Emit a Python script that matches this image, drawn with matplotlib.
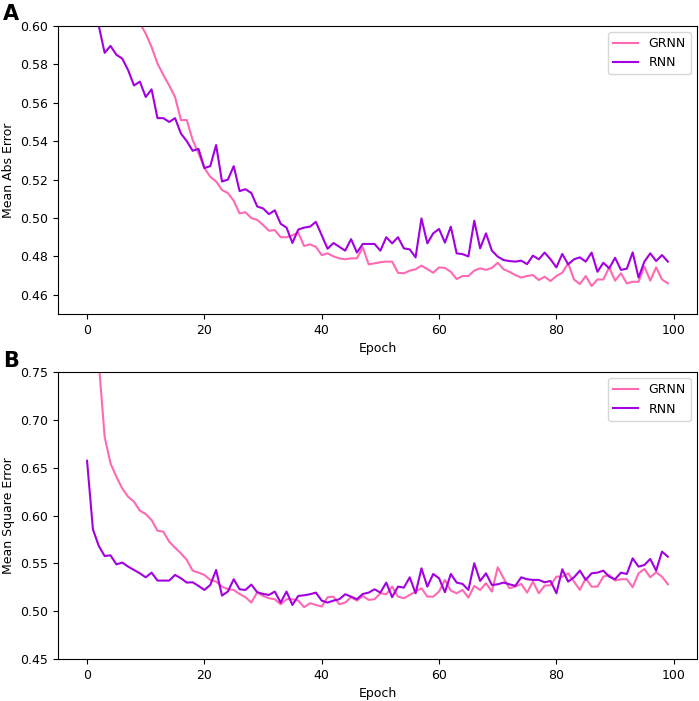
import matplotlib
matplotlib.use("Agg")
import matplotlib.pyplot as plt

# Training curves, one value per epoch (0..99)
epochs = list(range(100))

grnn_mae = [
    0.720, 0.690, 0.665, 0.648, 0.636, 0.626, 0.618, 0.613, 0.608, 0.6015,
    0.596, 0.589, 0.5805, 0.5745, 0.569, 0.563, 0.551, 0.551, 0.5406, 0.5337,
    0.526, 0.5215, 0.519, 0.5146, 0.513, 0.509, 0.5024, 0.503, 0.500, 0.499,
    0.4964, 0.4934, 0.4937, 0.490, 0.490, 0.491, 0.4924, 0.4854, 0.4863, 0.485,
    0.4807, 0.4816, 0.480, 0.479, 0.4785, 0.479, 0.479, 0.4847, 0.4759, 0.4764,
    0.477, 0.4773, 0.4773, 0.4715, 0.4712, 0.4726, 0.4733, 0.4752, 0.4734, 0.4715,
    0.4743, 0.474, 0.472, 0.4682, 0.4698, 0.4698, 0.4726, 0.4738, 0.473, 0.474,
    0.4767, 0.4733, 0.472, 0.4703, 0.469, 0.4698, 0.4703, 0.4677, 0.4694, 0.4672,
    0.4698, 0.4715, 0.4764, 0.468, 0.4656, 0.4698, 0.4646, 0.468, 0.468, 0.4743,
    0.4674, 0.4712, 0.466, 0.4668, 0.4668, 0.4747, 0.4674, 0.4743, 0.468, 0.466,
]

rnn_mae = [
    0.640, 0.612, 0.600, 0.586, 0.5896, 0.585, 0.583, 0.577, 0.569, 0.571,
    0.563, 0.567, 0.552, 0.552, 0.550, 0.552, 0.544, 0.540, 0.535, 0.536,
    0.526, 0.527, 0.538, 0.519, 0.520, 0.527, 0.514, 0.515, 0.513, 0.506,
    0.505, 0.502, 0.504, 0.497, 0.495, 0.487, 0.494, 0.495, 0.4955, 0.498,
    0.491, 0.484, 0.487, 0.485, 0.483, 0.489, 0.482, 0.4865, 0.4865, 0.4865,
    0.483, 0.490, 0.4868, 0.490, 0.4842, 0.4837, 0.4795, 0.4998, 0.4868, 0.492,
    0.4943, 0.4872, 0.4955, 0.4816, 0.4812, 0.480, 0.4986, 0.4842, 0.492, 0.483,
    0.4799, 0.4781, 0.4776, 0.4773, 0.4778, 0.476, 0.4804, 0.4785, 0.482, 0.4785,
    0.4743, 0.4813, 0.4759, 0.4785, 0.4795, 0.4773, 0.482, 0.472, 0.4767, 0.4738,
    0.4793, 0.473, 0.4736, 0.4821, 0.469, 0.4773, 0.4816, 0.4776, 0.4807, 0.4773,
]

grnn_mse = [
    1.000, 0.850, 0.760, 0.6824, 0.6546, 0.6406, 0.6284, 0.6197, 0.6145, 0.6051,
    0.6016, 0.5953, 0.5842, 0.5832, 0.5727, 0.5664, 0.5605, 0.5536, 0.5424, 0.5403,
    0.5379, 0.5327, 0.5309, 0.5257, 0.5229, 0.5222, 0.518, 0.5146, 0.509, 0.5198,
    0.5159, 0.5135, 0.5125, 0.5072, 0.5125, 0.5125, 0.511, 0.5041, 0.5083, 0.5065,
    0.5048, 0.5146, 0.5152, 0.5072, 0.509, 0.5146, 0.511, 0.5159, 0.5118, 0.5125,
    0.5187, 0.5177, 0.5257, 0.5152, 0.5135, 0.517, 0.5205, 0.524, 0.5152, 0.5152,
    0.5205, 0.5327, 0.5215, 0.5187, 0.5222, 0.5142, 0.5264, 0.5222, 0.5292, 0.5205,
    0.5459, 0.5344, 0.524, 0.5257, 0.5285, 0.5194, 0.5309, 0.5187, 0.5267, 0.5271,
    0.5361, 0.5361, 0.5396, 0.5309, 0.5222, 0.5344, 0.5257, 0.5257, 0.5361, 0.5379,
    0.532, 0.5334, 0.5334, 0.525, 0.5396, 0.5441, 0.5354, 0.5407, 0.5361, 0.5281,
]

rnn_mse = [
    0.6574, 0.5856, 0.5682, 0.5577, 0.5584, 0.549, 0.5508, 0.5466, 0.5431, 0.5396,
    0.5354, 0.5403, 0.532, 0.532, 0.532, 0.5379, 0.5344, 0.5299, 0.5302, 0.5264,
    0.5222, 0.5274, 0.5431, 0.5163, 0.5205, 0.5334, 0.5229, 0.5222, 0.5278, 0.5198,
    0.518, 0.517, 0.5205, 0.509, 0.5205, 0.5065, 0.5159, 0.5166, 0.5177, 0.5194,
    0.511, 0.509, 0.511, 0.5125, 0.5177, 0.5152, 0.5125, 0.518, 0.5194, 0.5229,
    0.5194, 0.5299, 0.5146, 0.5257, 0.5246, 0.5354, 0.5187, 0.5448, 0.5257, 0.5389,
    0.5344, 0.5198, 0.5389, 0.5299, 0.5285, 0.5222, 0.5501, 0.5316, 0.5396, 0.5274,
    0.5281, 0.5299, 0.5281, 0.5264, 0.5354, 0.5334, 0.5327, 0.5327, 0.5302, 0.5316,
    0.5187, 0.5438, 0.5309, 0.5354, 0.5424, 0.5327, 0.5396, 0.5403, 0.5424, 0.5361,
    0.5334, 0.5403, 0.5389, 0.5553, 0.5466, 0.5483, 0.5546, 0.5424, 0.5623, 0.557,
]

grnn_color = "hotpink"
rnn_color = "#a200e0"

fig = plt.figure(figsize=(6.99, 7.01), dpi=100)
ax1 = fig.add_axes([0.083, 0.552, 0.914, 0.411])
ax2 = fig.add_axes([0.083, 0.060, 0.914, 0.409])

# Panel A: mean absolute error
ax1.plot(epochs, grnn_mae, color=grnn_color, label="GRNN")
ax1.plot(epochs, rnn_mae, color=rnn_color, label="RNN")
ax1.set_ylim(0.45, 0.60)
ax1.set_xlabel("Epoch", fontsize=9)
ax1.set_ylabel("Mean Abs Error", fontsize=9)
ax1.tick_params(labelsize=9)
ax1.legend(loc="upper right", fontsize=9)

# Panel B: mean square error
ax2.plot(epochs, grnn_mse, color=grnn_color, label="GRNN")
ax2.plot(epochs, rnn_mse, color=rnn_color, label="RNN")
ax2.set_ylim(0.45, 0.75)
ax2.set_xlabel("Epoch", fontsize=9)
ax2.set_ylabel("Mean Square Error", fontsize=9)
ax2.tick_params(labelsize=9)
ax2.legend(loc="upper right", fontsize=9)

fig.text(0.004, 0.995, "A", fontsize=15, fontweight="bold", va="top")
fig.text(0.004, 0.499, "B", fontsize=15, fontweight="bold", va="top")

fig.savefig("out.png", dpi=100)
